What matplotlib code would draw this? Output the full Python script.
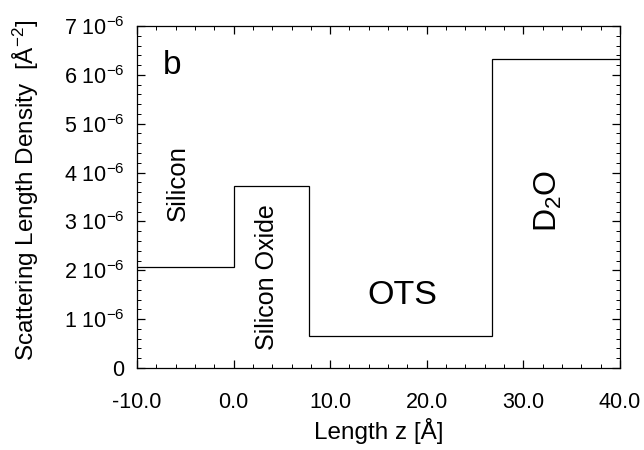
import matplotlib
matplotlib.use("Agg")
import matplotlib.pyplot as plt
from matplotlib.ticker import MultipleLocator, FuncFormatter

# Data: layer boundaries (Å) and SLD values (Å^-2)
z_edges = [-10.0, 0.0, 7.8, 26.7, 40.0]
sld_values = [2.06e-6, 3.73e-6, 0.65e-6, 6.33e-6]
layer_names = ["Silicon", "Silicon Oxide", "OTS", "D$_2$O"]

plt.rcParams['font.family'] = ['Liberation Sans', 'DejaVu Sans']
plt.rcParams['mathtext.fontset'] = 'custom'
plt.rcParams['mathtext.rm'] = 'Liberation Sans'
plt.rcParams['mathtext.it'] = 'Liberation Sans:italic'
plt.rcParams['mathtext.bf'] = 'Liberation Sans:bold'

fig = plt.figure(figsize=(6.44, 4.5), dpi=100)
ax = fig.add_axes([0.2127, 0.1822, 0.75, 0.76])

ax.stairs(sld_values, z_edges, color='black', linewidth=0.9, baseline=None)

ax.set_xlim(-10, 40)
ax.set_ylim(0, 7e-6)

ax.xaxis.set_major_locator(MultipleLocator(10))
ax.xaxis.set_minor_locator(MultipleLocator(2))
ax.yaxis.set_major_locator(MultipleLocator(1e-6))
ax.yaxis.set_minor_locator(MultipleLocator(0.2e-6))

ax.xaxis.set_major_formatter(FuncFormatter(lambda v, p: f"{v:.1f}"))

def yfmt(v, p):
    n = int(round(v * 1e6))
    if n == 0:
        return "0"
    return f"{n} 10$^{{-6}}$"

ax.yaxis.set_major_formatter(FuncFormatter(yfmt))

ax.tick_params(which='both', direction='in', top=True, right=True, labelsize=15.5)
ax.tick_params(which='major', length=6, width=0.9)
ax.tick_params(which='minor', length=3, width=0.7)
ax.tick_params(axis='x', pad=17)
ax.tick_params(axis='y', pad=9)
for s in ax.spines.values():
    s.set_linewidth(0.9)

ax.set_xlabel("Length z [Å]", fontsize=17.5)
ax.xaxis.set_label_coords(0.5, -0.145)
ax.set_ylabel("Scattering Length Density  [Å$^{-2}$]", fontsize=17.5)
ax.yaxis.set_label_coords(-0.198, 0.52)

ax.text(-6.4, 6.2e-6, "b", fontsize=24, ha='center', va='center')
ax.text(-5.75, 3.78e-6, layer_names[0], rotation=90, fontsize=18.5, ha='center', va='center')
ax.text(3.46, 1.86e-6, layer_names[1], rotation=90, fontsize=18, ha='center', va='center')
ax.text(17.5, 1.49e-6, layer_names[2], fontsize=24.5, ha='center', va='center')
ax.text(32.6, 3.41e-6, layer_names[3], rotation=90, fontsize=23, ha='center', va='center')

fig.savefig("out.png", dpi=100)
